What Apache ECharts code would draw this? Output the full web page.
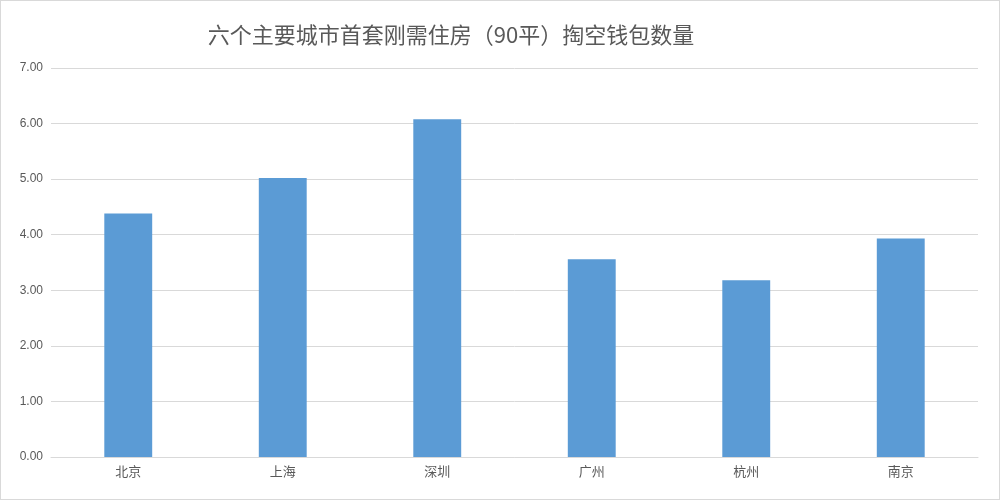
<!DOCTYPE html>
<html><head><meta charset="utf-8">
<script src="https://cdn.jsdelivr.net/npm/echarts@6/dist/echarts.min.js"></script>
<style>html,body{margin:0;padding:0;background:#fff}#c{width:998px;height:498px;border:1px solid #d9d9d9}</style>
</head><body><div id="c"></div>
<script>
const categories = ['北京','上海','深圳','广州','杭州','南京'];
const values = [4.38, 5.02, 6.08, 3.56, 3.18, 3.93];
const chart = echarts.init(document.getElementById('c'));
chart.setOption({
  animation:false,
  title:{text:'六个主要城市首套刚需住房（90平）掏空钱包数量',left:445,top:18,textAlign:'center',
    textStyle:{fontFamily:'Noto Sans CJK SC',fontSize:22,fontWeight:'normal',color:'#595959'}},
  grid:{left:50,right:21,top:67,bottom:42},
  xAxis:{type:'category',data:categories,
    axisLine:{lineStyle:{color:'#d9d9d9'}},axisTick:{show:false},
    axisLabel:{color:'#595959',fontSize:13,fontFamily:'Noto Sans CJK SC',margin:8}},
  yAxis:{type:'value',min:0,max:7,interval:1,
    axisLabel:{formatter:v=>v.toFixed(2),color:'#595959',fontSize:12},
    axisLine:{show:false},axisTick:{show:false},
    splitLine:{lineStyle:{color:'#d9d9d9'}}},
  series:[{type:'bar',data:values,barWidth:'31%',itemStyle:{color:'#5b9bd5'}}]
});
</script></body></html>
